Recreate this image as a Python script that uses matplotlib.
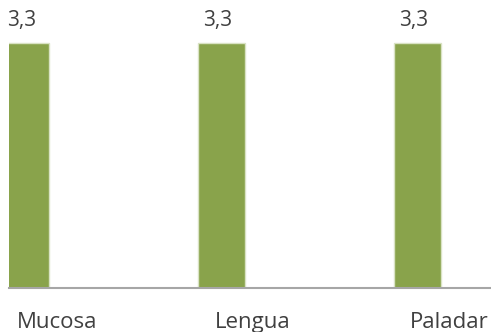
import matplotlib.pyplot as plt
import numpy as np

categorias = ['Mucosa', 'Lengua', 'Paladar']
valores = [3.3, 3.3, 3.3]
etiquetas = ['3,3', '3,3', '3,3']

plt.rcParams['font.family'] = ['Open Sans', 'DejaVu Sans']

fig = plt.figure(figsize=(4.91, 3.32), dpi=100)
ax = fig.add_axes([9 / 491, (332 - 288) / 332, 482 / 491, 288 / 332])

x = np.arange(len(categorias))
bars = ax.bar(x - 0.16, valores, width=0.24, color='#89a34b',
              edgecolor='#d9e2c4', linewidth=1.0)

for b, t in zip(bars, etiquetas):
    ax.annotate(t, (b.get_x() + b.get_width() / 2, b.get_height()),
                xytext=(-3, 9), textcoords='offset points',
                ha='center', va='bottom', fontsize=15, color='#404040')

ax.set_xlim(-0.245, 2.214)
ax.set_ylim(0, 3.88)
ax.set_xticks(x)
ax.set_xticklabels(categorias, fontsize=16, color='#404040')
ax.tick_params(axis='x', length=0, pad=17)
ax.set_yticks([])
for s in ['top', 'right', 'left']:
    ax.spines[s].set_visible(False)
ax.spines['bottom'].set_color('#a6a6a6')
ax.spines['bottom'].set_linewidth(1.5)

fig.savefig('out.png', dpi=100)
